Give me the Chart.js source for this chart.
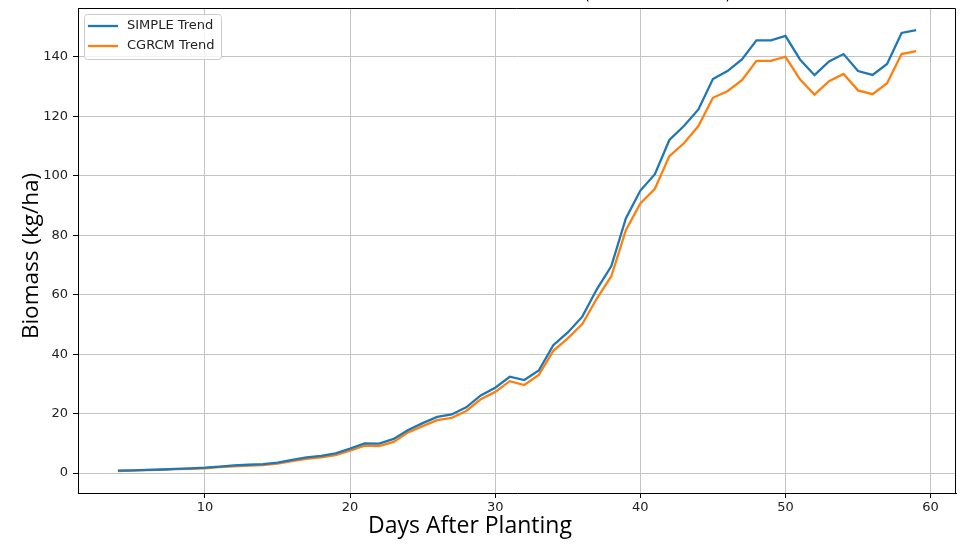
<!DOCTYPE html>
<html>
<head>
<meta charset="utf-8">
<script src="https://cdn.jsdelivr.net/npm/chart.js@4"></script>
<style>
  html, body { margin: 0; padding: 0; background: #fff; overflow: hidden; }
  #wrap { position: relative; width: 969px; height: 547px; overflow: hidden; }
  #chart { position: absolute; left: 0; top: -30px; }
</style>
</head>
<body>
<div id="wrap"><canvas id="chart" width="969" height="577"></canvas></div>
<script>
var days = [4, 5, 6, 7, 8, 9, 10, 11, 12, 13, 14, 15, 16, 17, 18, 19, 20, 21, 22,
  23, 24, 25, 26, 27, 28, 29, 30, 31, 32, 33, 34, 35, 36, 37, 38, 39,
  40, 41, 42, 43, 44, 45, 46, 47, 48, 49, 50, 51, 52, 53, 54, 55, 56, 57, 58, 59];
var simpleTrend = [0.8, 0.9, 1.1, 1.2, 1.4, 1.6, 1.8, 2.2, 2.6, 2.8, 3.0, 3.5, 4.4, 5.3, 5.8, 6.6, 8.2, 10.0, 9.9,
  11.5, 14.5, 16.8, 18.9, 19.7, 22.1, 26.1, 28.7, 32.4, 31.3, 34.5, 43.0, 47.3, 52.6, 61.8, 69.6, 85.6,
  95.0, 100.5, 112.0, 116.7, 122.3, 132.5, 135.2, 139.1, 145.5, 145.5, 147.0, 139.1, 133.8, 138.4, 140.9, 135.2, 133.9, 137.6, 148.0, 149.0];
var cgrcmTrend = [0.7, 0.8, 1.0, 1.1, 1.3, 1.4, 1.6, 2.0, 2.3, 2.5, 2.7, 3.2, 4.0, 4.8, 5.3, 6.0, 7.5, 9.2, 9.1,
  10.5, 13.7, 15.8, 17.8, 18.6, 20.9, 24.8, 27.3, 30.9, 29.6, 33.0, 41.1, 45.3, 50.1, 58.7, 66.2, 81.7,
  90.7, 95.6, 106.6, 110.9, 116.7, 126.2, 128.4, 132.1, 138.6, 138.6, 140.0, 132.4, 127.3, 131.8, 134.2, 128.7, 127.4, 131.1, 140.9, 141.9];
var xTicks = [10, 20, 30, 40, 50, 60];
var yTicks = [0, 20, 40, 60, 80, 100, 120, 140];
var chartTitle = 'Smoothed Biomass Trends (SIMPLE vs CGRCM)';
var xTitle = 'Days After Planting';
var yTitle = 'Biomass (kg/ha)';

function points(vals) {
  return days.map(function (d, i) { return { x: d, y: vals[i] }; });
}

// top/right frame, titles (off-centre in the original) and a legend inside the plot
var frameAndLegend = {
  id: 'frameAndLegend',
  afterDraw: function (chart) {
    var ctx = chart.ctx;
    var a = chart.chartArea;
    ctx.save();
    ctx.strokeStyle = '#000';
    ctx.lineWidth = 1;
    ctx.beginPath();
    ctx.moveTo(a.left, a.top + 0.5);
    ctx.lineTo(a.right - 0.5, a.top + 0.5);
    ctx.lineTo(a.right - 0.5, a.bottom);
    ctx.stroke();

    ctx.fillStyle = '#000';
    ctx.textBaseline = 'alphabetic';
    ctx.font = '15px "DejaVu Sans"';
    ctx.textAlign = 'right';
    ctx.fillText(chartTitle, 731, a.top - 9);

    ctx.font = '23px "Open Sans"';
    ctx.textAlign = 'center';
    ctx.fillText(xTitle, 470, a.bottom + 40);

    ctx.save();
    ctx.translate(37.5, a.top + 248);
    ctx.rotate(-Math.PI / 2);
    ctx.font = '22.5px "Open Sans"';
    ctx.fillText(yTitle, 0, 0);
    ctx.restore();

    var x = a.left + 6.5, y = a.top + 6.5, w = 137, h = 45;
    ctx.beginPath();
    ctx.roundRect(x, y, w, h, 3);
    ctx.fillStyle = 'rgba(255,255,255,0.8)';
    ctx.fill();
    ctx.strokeStyle = '#cccccc';
    ctx.lineWidth = 1;
    ctx.stroke();

    ctx.font = '13px "DejaVu Sans"';
    ctx.textBaseline = 'middle';
    ctx.textAlign = 'left';
    chart.data.datasets.forEach(function (ds, i) {
      var ly = a.top + 18 + i * 20;
      ctx.beginPath();
      ctx.moveTo(a.left + 10, ly);
      ctx.lineTo(a.left + 40, ly);
      ctx.strokeStyle = ds.borderColor;
      ctx.lineWidth = 2.3;
      ctx.stroke();
      ctx.fillStyle = '#222';
      ctx.fillText(ds.label, a.left + 49, ly);
    });
    ctx.restore();
  }
};

document.addEventListener('DOMContentLoaded', function () {
  new Chart(document.getElementById('chart').getContext('2d'), {
    type: 'line',
    data: {
      datasets: [{
        label: 'SIMPLE Trend',
        data: points(simpleTrend),
        borderColor: '#1f77b4',
        borderWidth: 2.3,
        pointRadius: 0,
        fill: false
      }, {
        label: 'CGRCM Trend',
        data: points(cgrcmTrend),
        borderColor: '#ff7f0e',
        borderWidth: 2.3,
        pointRadius: 0,
        fill: false
      }]
    },
    options: {
      responsive: false,
      animation: false,
      layout: { padding: { left: 0, right: 13, top: 38, bottom: 0 } },
      plugins: {
        legend: { display: false },
        tooltip: { enabled: false },
        title: { display: false }
      },
      scales: {
        x: {
          type: 'linear',
          min: 1.25,
          max: 61.75,
          afterBuildTicks: function (s) { s.ticks = xTicks.map(function (v) { return { value: v }; }); },
          afterFit: function (s) { s.height = 54; },
          grid: { color: '#c4c4c4', lineWidth: 1, tickColor: '#000', tickLength: 5 },
          border: { color: '#000', width: 1 },
          ticks: { color: '#222', padding: 2, maxRotation: 0, font: { family: 'DejaVu Sans', size: 13 } }
        },
        y: {
          min: -6.7,
          max: 156.4,
          afterBuildTicks: function (s) { s.ticks = yTicks.map(function (v) { return { value: v }; }); },
          afterFit: function (s) { s.width = 78; },
          grid: { color: '#c4c4c4', lineWidth: 1, tickColor: '#000', tickLength: 5 },
          border: { color: '#000', width: 1 },
          ticks: { color: '#222', padding: 5, font: { family: 'DejaVu Sans', size: 13 } }
        }
      }
    },
    plugins: [frameAndLegend]
  });
});
</script>
</body>
</html>
